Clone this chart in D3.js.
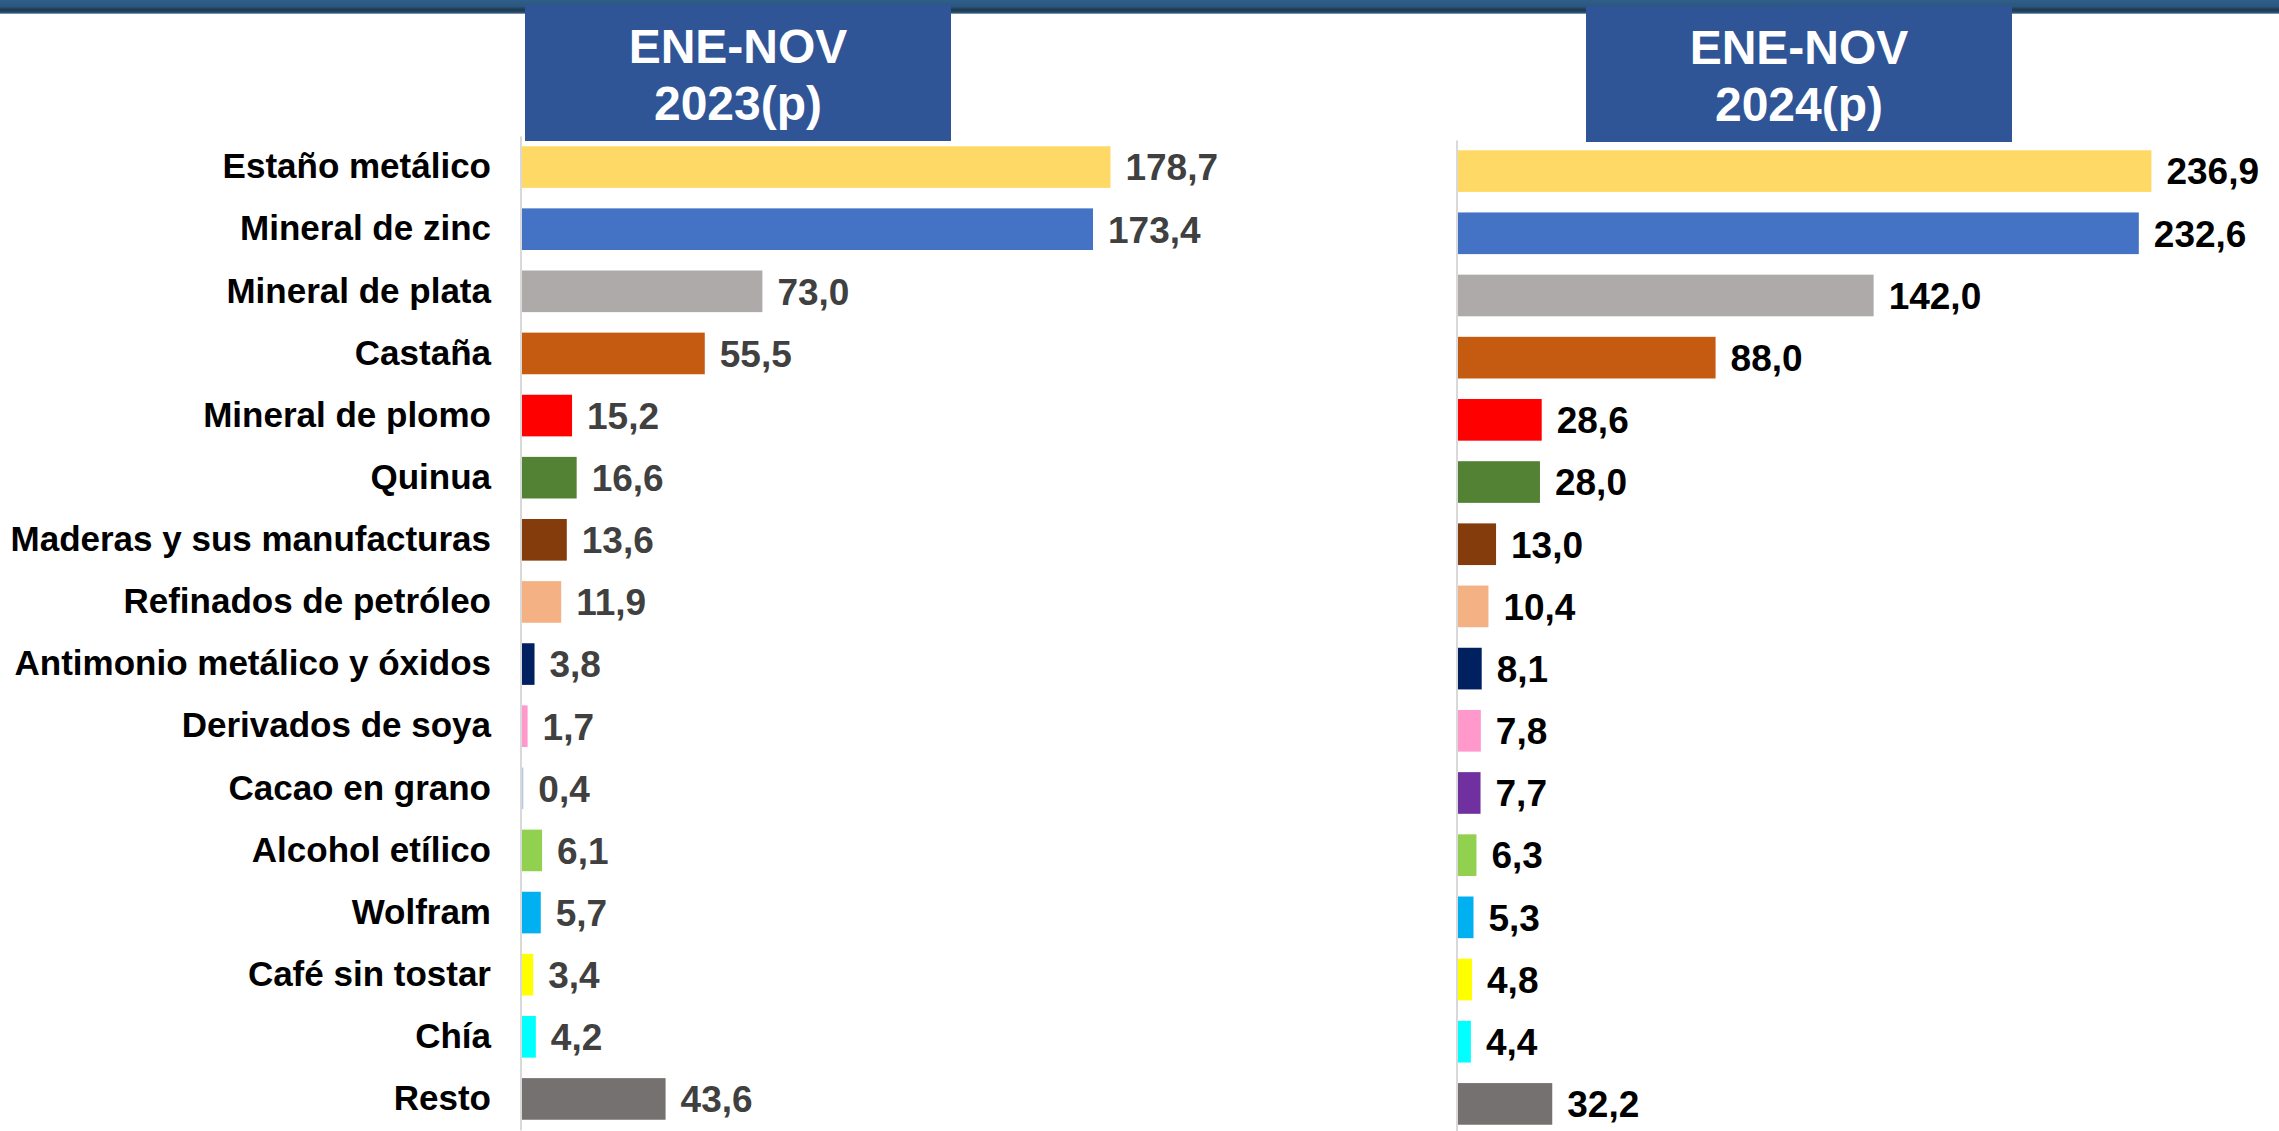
<!DOCTYPE html>
<html>
<head>
<meta charset="utf-8">
<script src="https://cdn.jsdelivr.net/npm/d3@7"></script>
<style>
  html, body { margin: 0; padding: 0; background: #ffffff; }
  svg { display: block; }
  text { font-family: "Liberation Sans", Arial, sans-serif; font-weight: bold; }
</style>
</head>
<body>
<svg id="chart" width="2279" height="1131"></svg>
<script>
// ---- Data ----
const categories = [
  "Estaño metálico", "Mineral de zinc", "Mineral de plata", "Castaña",
  "Mineral de plomo", "Quinua", "Maderas y sus manufacturas", "Refinados de petróleo",
  "Antimonio metálico y óxidos", "Derivados de soya", "Cacao en grano", "Alcohol etílico",
  "Wolfram", "Café sin tostar", "Chía", "Resto"
];
const values2023 = [178.7, 173.4, 73.0, 55.5, 15.2, 16.6, 13.6, 11.9, 3.8, 1.7, 0.4, 6.1, 5.7, 3.4, 4.2, 43.6];
const values2024 = [236.9, 232.6, 142.0, 88.0, 28.6, 28.0, 13.0, 10.4, 8.1, 7.8, 7.7, 6.3, 5.3, 4.8, 4.4, 32.2];
const barColors = [
  "#FFD966", "#4472C4", "#AEAAAA", "#C55A11",
  "#FF0000", "#548235", "#843C0C", "#F4B183",
  "#002060", "#FF99CC", "#7030A0", "#92D050",
  "#00B0F0", "#FFFF00", "#00FFFF", "#767171"
];
const barColors2023 = barColors.map((c, i) => categories[i] === "Cacao en grano" ? "#B4C7E7" : c);
const headers2023 = ["ENE-NOV", "2023(p)"];
const headers2024 = ["ENE-NOV", "2024(p)"];

// ---- Setup ----
const svg = d3.select("#chart");
const W = 2279, H = 1131;
const loc = d3.formatLocale({decimal: ",", thousands: ".", grouping: [3], currency: ["", ""]});
const fmt = loc.format(".1f");

// top band gradient
const defs = svg.append("defs");
const grad = defs.append("linearGradient").attr("id", "band").attr("x1", 0).attr("y1", 0).attr("x2", 0).attr("y2", 1);
[[0, "#2F5E8A"], [0.45, "#2B5780"], [0.7, "#1D3850"], [0.88, "#2A4A68"], [0.94, "#4F7496"], [1, "#9DB9D4"]]
  .forEach(([o, c]) => grad.append("stop").attr("offset", o).attr("stop-color", c));
svg.append("rect").attr("x", 0).attr("y", 0).attr("width", W).attr("height", 14).attr("fill", "url(#band)");

function panel(opts) {
  const { values, colors, x0, x1, dmax, yTop, yBot, axisX, headers, box, labelColor, showCats, catX } = opts;
  const x = d3.scaleLinear().domain([0, dmax]).range([x0, x1]);
  const y = d3.scaleBand().domain(categories).range([yTop, yBot]).paddingInner(0.33).paddingOuter(0.165);

  // header box
  const g = svg.append("g");
  g.append("rect").attr("x", box[0]).attr("y", box[1]).attr("width", box[2]).attr("height", box[3]).attr("fill", "#2F5597");
  g.selectAll("text.hdr").data(headers).join("text")
    .attr("class", "hdr")
    .attr("x", box[0] + box[2] / 2)
    .attr("y", (d, i) => box[1] + 58 + i * 57)
    .attr("text-anchor", "middle")
    .attr("fill", "#ffffff")
    .attr("font-size", 48)
    .text(d => d);

  // axis (category axis line)
  const axis = d3.axisLeft(y).tickSize(0).tickSizeOuter(0).tickPadding(axisX - catX);
  if (!showCats) axis.tickFormat("");
  const ax = svg.append("g").attr("transform", `translate(${axisX},0)`).call(axis);
  ax.select(".domain").attr("stroke", "#D9D9D9").attr("stroke-width", 2);
  ax.selectAll(".tick text")
    .attr("fill", "#000000")
    .attr("font-size", 35)
    .style("font-family", '"Liberation Sans", Arial, sans-serif')
    .style("font-weight", "bold");

  // bars
  svg.append("g").selectAll("rect").data(values).join("rect")
    .attr("x", x(0))
    .attr("y", (d, i) => y(categories[i]))
    .attr("width", d => Math.max(0, x(d) - x(0)))
    .attr("height", y.bandwidth())
    .attr("fill", (d, i) => colors[i]);

  // value labels
  svg.append("g").selectAll("text").data(values).join("text")
    .attr("x", d => x(d) + 15)
    .attr("y", (d, i) => y(categories[i]) + y.bandwidth() / 2)
    .attr("dy", "0.36em")
    .attr("fill", labelColor)
    .attr("font-size", 37)
    .text(d => fmt(d));
}

panel({
  values: values2023, colors: barColors2023,
  x0: 522, x1: 522 + 200 * 3.293, dmax: 200,
  yTop: 136, yBot: 1130, axisX: 520.5, catX: 491,
  headers: headers2023, box: [525, 5, 426, 136],
  labelColor: "#404040", showCats: true
});

panel({
  values: values2024, colors: barColors,
  x0: 1458, x1: 1458 + 250 * 2.927, dmax: 250,
  yTop: 140, yBot: 1135, axisX: 1456.5, catX: 1456.5,
  headers: headers2024, box: [1586, 6, 426, 136],
  labelColor: "#000000", showCats: false
});
</script>
</body>
</html>
